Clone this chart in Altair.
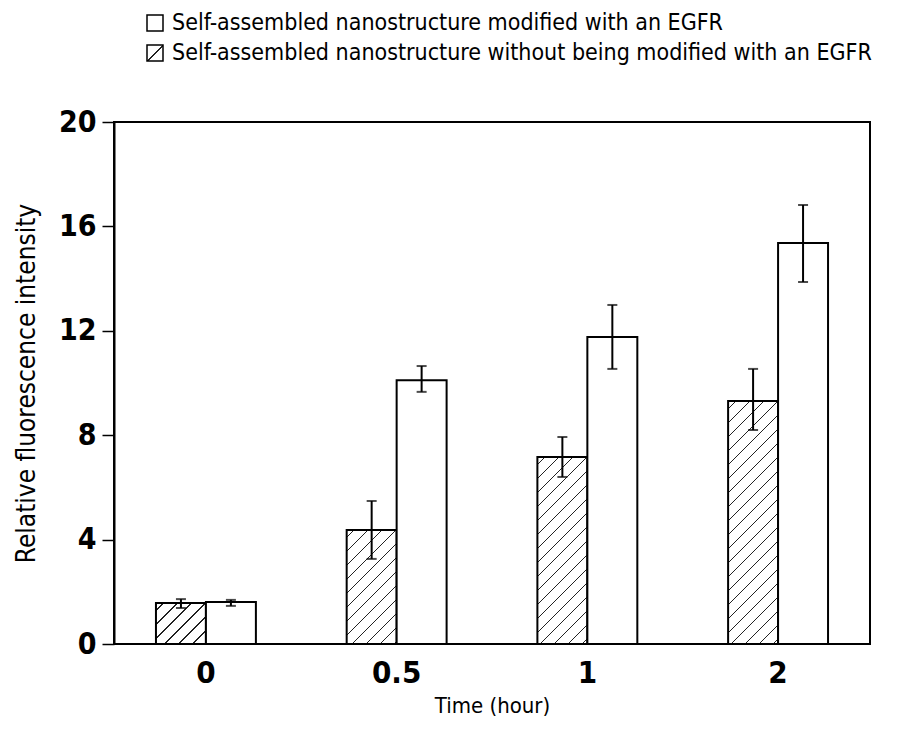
import altair as alt

# ---------------- data ----------------
times = ["0", "0.5", "1", "2"]
label_with = "Self-assembled nanostructure modified with an EGFR"
label_without = "Self-assembled nanostructure without being modified with an EGFR"

without_mean = [1.57, 4.37, 7.16, 9.31]
without_lo = [1.38, 3.26, 6.40, 8.20]
without_hi = [1.72, 5.48, 7.93, 10.54]

with_mean = [1.61, 10.11, 11.76, 15.36]
with_lo = [1.46, 9.66, 10.54, 13.87]
with_hi = [1.69, 10.65, 12.99, 16.82]

y_ticks = [0, 4, 8, 12, 16, 20]

# ---------------- layout / style ----------------
PLOT_W, PLOT_H = 756, 522
Y_MAX = 20
PAD_INNER, PAD_OUTER = 0.476, 0.22
FONT = "Liberation Sans Narrow, DejaVu Sans Condensed, Arial Narrow, sans-serif"

step = PLOT_W / (len(times) - PAD_INNER + 2 * PAD_OUTER)
bar_w = step * (1 - PAD_INNER) / 2


def hatch(w, h, period=14.0, line=1.3, start=None):
    """Linear gradient (objectBoundingBox units) that draws '/' hatch lines."""
    total = w + h
    p = w * total / (w * w + h * h)
    q = p * h / w
    stops = [{"offset": 0, "color": "white"}]
    k = period / 2 if start is None else start
    while k < total:
        a = k / total
        b = min((k + line) / total, 1.0)
        stops += [
            {"offset": a, "color": "white"},
            {"offset": a, "color": "#222"},
            {"offset": b, "color": "#222"},
            {"offset": b, "color": "white"},
        ]
        k += period
    stops.append({"offset": 1, "color": "white"})
    return {"gradient": "linear", "x1": 0, "y1": 0, "x2": p, "y2": q, "stops": stops}


records = []
for i, t in enumerate(times):
    records.append(dict(time=t, series="without", mean=without_mean[i],
                        lo=without_lo[i], hi=without_hi[i],
                        fill=hatch(bar_w, without_mean[i] / Y_MAX * PLOT_H)))
    records.append(dict(time=t, series="with", mean=with_mean[i],
                        lo=with_lo[i], hi=with_hi[i], fill="white"))
data = alt.Data(values=records)

x = alt.X(
    "time:N", sort=times,
    scale=alt.Scale(paddingInner=PAD_INNER, paddingOuter=PAD_OUTER),
    axis=alt.Axis(title="Time (hour)", labelAngle=0, ticks=False, domain=False,
                  labelPadding=14, labelFontSize=31, labelFont=FONT,
                  labelFontWeight="bold", labelColor="black",
                  titleFontSize=22, titleFont=FONT, titleFontWeight="normal",
                  titleColor="black", titlePadding=7),
)
xo = alt.XOffset("series:N", sort=["without", "with"],
                 scale=alt.Scale(domain=["without", "with"], paddingInner=0, paddingOuter=0))
y_axis = alt.Axis(
    values=y_ticks, title="Relative fluorescence intensity", grid=False,
    domain=True, domainColor="black", domainWidth=2,
    ticks=True, tickColor="black", tickSize=12, tickWidth=1.5,
    labelFontSize=30, labelFont=FONT, labelFontWeight="bold", labelColor="black",
    labelPadding=6,
    titleFontSize=26, titleFont=FONT, titleFontWeight="normal", titleColor="black",
    titleX=-88, titleY=PLOT_H / 2, titleBaseline="middle", titleAngle=270,
    titleAlign="center",
)
y_scale = alt.Scale(domain=[0, Y_MAX], nice=False, zero=True)

base = alt.Chart(data)

bars = base.mark_bar(stroke="black", strokeWidth=2).encode(
    x=x, xOffset=xo,
    y=alt.Y("mean:Q", scale=y_scale, axis=y_axis),
    fill=alt.Fill("fill:N", scale=None),
)
err = base.mark_rule(color="black", strokeWidth=2).encode(
    x=x, xOffset=xo, y=alt.Y("lo:Q", scale=y_scale), y2="hi:Q"
)
cap_lo = base.mark_tick(color="black", thickness=2, size=10).encode(
    x=x, xOffset=xo, y=alt.Y("lo:Q", scale=y_scale)
)
cap_hi = base.mark_tick(color="black", thickness=2, size=10).encode(
    x=x, xOffset=xo, y=alt.Y("hi:Q", scale=y_scale)
)

one = alt.Data(values=[{"k": 1}])
leg_box1 = alt.Chart(one).mark_rect(fill="white", stroke="black", strokeWidth=1.5).encode(
    x=alt.value(33), x2=alt.value(49), y=alt.value(-107), y2=alt.value(-91)
)
leg_box2 = alt.Chart(one).mark_rect(fill=hatch(16, 16, period=32, line=1.5, start=16),
                                    stroke="black", strokeWidth=1.5).encode(
    x=alt.value(33), x2=alt.value(49), y=alt.value(-77), y2=alt.value(-61)
)
leg_txt1 = alt.Chart(one).mark_text(text=label_with, align="left", baseline="middle",
                                    font=FONT, fontSize=23, color="black").encode(
    x=alt.value(58), y=alt.value(-99)
)
leg_txt2 = alt.Chart(one).mark_text(text=label_without, align="left", baseline="middle",
                                    font=FONT, fontSize=23, color="black").encode(
    x=alt.value(58), y=alt.value(-69)
)

chart = alt.layer(
    bars, err, cap_lo, cap_hi, leg_box1, leg_box2, leg_txt1, leg_txt2
).properties(
    width=PLOT_W, height=PLOT_H,
    autosize=alt.AutoSizeParams(type="none"),
    padding={"left": 106, "top": 114, "right": 30, "bottom": 85},
    background="white",
).configure_view(
    stroke="black", strokeWidth=2
)

chart.save("out.html", embed_options={"renderer": "svg", "actions": False})
